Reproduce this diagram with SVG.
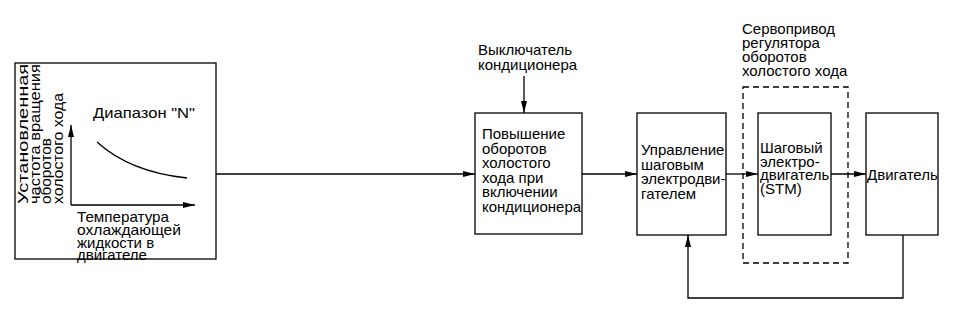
<svg xmlns="http://www.w3.org/2000/svg" width="955" height="311" viewBox="0 0 955 311">
<style>
text{font-family:"Liberation Sans",Arial,sans-serif;font-size:15px;fill:#000}
.s{font-size:14px}
.box{fill:#fff;stroke:#000;stroke-width:1.3}
.ln{fill:none;stroke:#000;stroke-width:1.3}
.dash{fill:none;stroke:#000;stroke-width:1.3;stroke-dasharray:6 4}
</style>
<defs>
<marker id="ah" viewBox="0 0 12 6" refX="12" refY="3" markerWidth="12" markerHeight="6" markerUnits="userSpaceOnUse" orient="auto">
<path d="M0,0 L12,3 L0,6 Z" fill="#000"/>
</marker>
</defs>
<rect width="955" height="311" fill="#fff"/>
<g id="connectors">
<line class="ln" x1="216" y1="174" x2="475" y2="174" marker-end="url(#ah)"/>
<line class="ln" x1="524" y1="76" x2="524" y2="113" marker-end="url(#ah)"/>
<line class="ln" x1="582" y1="174" x2="637" y2="174" marker-end="url(#ah)"/>
<line class="ln" x1="726" y1="174" x2="758" y2="174" marker-end="url(#ah)"/>
<line class="ln" x1="831" y1="174" x2="866" y2="174" marker-end="url(#ah)"/>
<polyline class="ln" points="903,235 903,298 688,298 688,235" marker-end="url(#ah)"/>
</g>
<g id="graph-box">
<rect class="box" x="15" y="63" width="201" height="196"/>
<g transform="rotate(-90)">
<text class="s" x="-204" y="28" textLength="140" lengthAdjust="spacingAndGlyphs">Установленная</text>
<text class="s" x="-204" y="39.5" textLength="140" lengthAdjust="spacingAndGlyphs">частота вращения</text>
<text class="s" x="-204" y="51" textLength="66" lengthAdjust="spacingAndGlyphs">оборотов</text>
<text class="s" x="-204" y="62.5" textLength="111" lengthAdjust="spacingAndGlyphs">холостого хода</text>
</g>
<line class="ln" x1="71" y1="205" x2="71" y2="125" marker-end="url(#ah)"/>
<line class="ln" x1="71" y1="205" x2="195" y2="205" marker-end="url(#ah)"/>
<path class="ln" d="M97,142 Q130,172 187,178"/>
<text x="93" y="118" textLength="102" lengthAdjust="spacingAndGlyphs">Диапазон "N"</text>
<text x="77" y="222" textLength="92" lengthAdjust="spacingAndGlyphs">Температура</text>
<text x="77" y="235" textLength="104" lengthAdjust="spacingAndGlyphs">охлаждающей</text>
<text x="77" y="248">жидкости в</text>
<text x="77" y="260">двигателе</text>
</g>
<g id="ac-switch">
<text x="478" y="55">Выключатель</text>
<text x="478" y="70">кондиционера</text>
</g>
<g id="idle-up">
<rect class="box" x="475" y="113" width="107" height="121"/>
<text x="482" y="139">Повышение</text>
<text x="482" y="153.6">оборотов</text>
<text x="482" y="168.2">холостого</text>
<text x="482" y="182.8">хода при</text>
<text x="482" y="197.4">включении</text>
<text x="482" y="212">кондиционера</text>
</g>
<g id="stm-control">
<rect class="box" x="637" y="113" width="89" height="122"/>
<text x="641" y="155">Управление</text>
<text x="641" y="169.5">шаговым</text>
<text x="641" y="184">электродви-</text>
<text x="641" y="198.5">гателем</text>
</g>
<g id="servo">
<rect class="dash" x="743" y="87" width="105" height="176"/>
<text x="742" y="34">Сервопривод</text>
<text x="742" y="48">регулятора</text>
<text x="742" y="62">оборотов</text>
<text x="742" y="76">холостого хода</text>
</g>
<g id="stm">
<rect class="box" x="758" y="113" width="73" height="122"/>
<text x="760" y="153">Шаговый</text>
<text x="760" y="166.5">электро-</text>
<text x="760" y="180">двигатель</text>
<text x="760" y="193.5">(STM)</text>
</g>
<g id="engine">
<rect class="box" x="866" y="113" width="72" height="122"/>
<text x="867" y="180">Двигатель</text>
</g>
</svg>
